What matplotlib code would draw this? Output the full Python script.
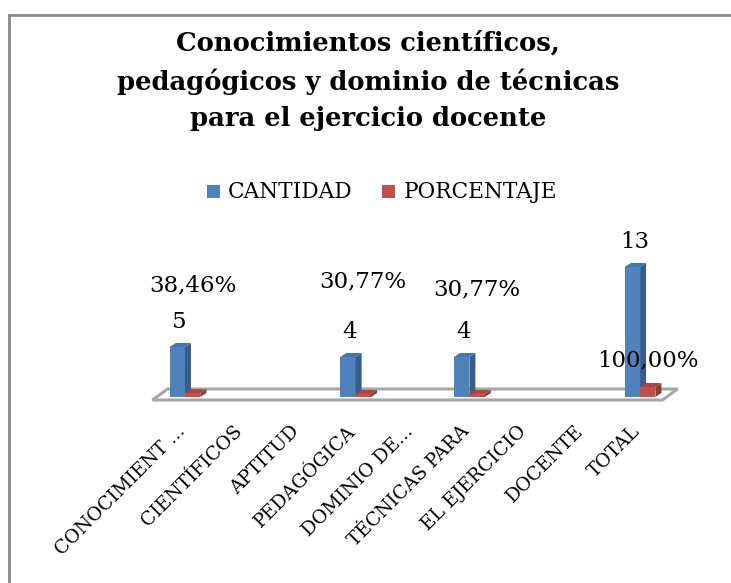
import numpy as np
import matplotlib
matplotlib.use('Agg')
import matplotlib.pyplot as plt
import matplotlib.transforms as mtrans
from matplotlib.patches import Polygon
from matplotlib.lines import Line2D

# data (blank categories come from wrapped label lines)
categories = ['CONOCIMIENT ...', 'CIENTÍFICOS', 'APTITUD', 'PEDAGÓGICA',
              'DOMINIO DE...', 'TÉCNICAS PARA', 'EL EJERCICIO', 'DOCENTE', 'TOTAL']
cantidad = [5, np.nan, np.nan, 4, np.nan, 4, np.nan, np.nan, 13]
porcentaje = [0.3846, np.nan, np.nan, 0.3077, np.nan, 0.3077, np.nan, np.nan, 1.0]
series_names = ['CANTIDAD', 'PORCENTAJE']

# label offsets (px above the bar top) for the percentage labels, as Excel placed them
pct_offsets = [108, 0, 0, 112, 0, 104, 0, 0, 27]

FONT = 'DejaVu Serif'
BLUE, BLUE_SIDE, BLUE_TOP = '#4f81bd', '#385d8a', '#4674ad'
RED, RED_SIDE, RED_TOP = '#c0504d', '#8c3836', '#a94543'

fig = plt.figure(figsize=(7.31, 5.83), dpi=100)
W, H = 731, 583

# chart border (cropped at right/bottom)
fig.add_artist(Line2D([9 / W, 9 / W], [0, 1 - 15 / H], color='#8a8a8a', lw=2))
fig.add_artist(Line2D([9 / W, 1], [1 - 15 / H, 1 - 15 / H], color='#8a8a8a', lw=2))

fig.text(368 / W, 1 - 81 / H, 'Conocimientos científicos,\npedagógicos y dominio de técnicas\npara el ejercicio docente',
         ha='center', va='center', family=FONT, fontweight='bold', fontsize=18.6, linespacing=1.58)

ax = fig.add_axes([156.5 / W, 1 - 397 / H, 512 / W, 140 / H])
ax.set_xlim(-0.5, len(categories) - 0.5)
ax.set_ylim(0, 14)
for s in ax.spines.values():
    s.set_visible(False)
ax.set_yticks([])
ax.set_xticks(range(len(categories)))
ax.set_xticklabels(categories, rotation=45, ha='right', family=FONT, fontsize=13.5)
ax.tick_params(axis='x', length=0, pad=18)
shift = mtrans.ScaledTranslation(4 / 100, 0, fig.dpi_scale_trans)
for lbl in ax.get_xticklabels():
    lbl.set_transform(lbl.get_transform() + shift)

# pixel -> data scale
px_x = (len(categories)) / 512.0
px_y = 14 / 140.0

# floor
fx0, fx1 = -0.5 - 4 * px_x, len(categories) - 0.5 - 6 * px_x
fy = -3 * px_y
floor = Polygon([(fx0, fy), (fx1, fy), (fx1 + 15 * px_x, fy + 11 * px_y), (fx0 + 15 * px_x, fy + 11 * px_y)],
                closed=True, facecolor='white', edgecolor='#a6a6a6', lw=2.2, clip_on=False, zorder=1)
ax.add_patch(floor)

bw = 0.27
dx, dy = 6 * px_x, 4 * px_y


def bar3d(x0, h, front, side, top):
    ax.add_patch(Polygon([(x0, 0), (x0 + bw, 0), (x0 + bw, h), (x0, h)], closed=True,
                         facecolor=front, edgecolor='none', clip_on=False, zorder=3))
    ax.add_patch(Polygon([(x0 + bw, 0), (x0 + bw + dx, dy), (x0 + bw + dx, h + dy), (x0 + bw, h)], closed=True,
                         facecolor=side, edgecolor='none', clip_on=False, zorder=3))
    ax.add_patch(Polygon([(x0, h), (x0 + bw, h), (x0 + bw + dx, h + dy), (x0 + dx, h + dy)], closed=True,
                         facecolor=top, edgecolor='none', clip_on=False, zorder=3))


for i in range(len(categories)):
    if not np.isnan(cantidad[i]):
        bar3d(i - bw, cantidad[i], BLUE, BLUE_SIDE, BLUE_TOP)
        ax.annotate('{:d}'.format(int(cantidad[i])), (i - bw / 2, cantidad[i]), xytext=(2, 25),
                    textcoords='offset pixels', ha='center', va='center', family=FONT, fontsize=16.5)
    if not np.isnan(porcentaje[i]):
        bar3d(i, porcentaje[i], RED, RED_SIDE, RED_TOP)
        ax.annotate('{:.2f}%'.format(porcentaje[i] * 100).replace('.', ','), (i + bw / 2, porcentaje[i]),
                    xytext=(0, pct_offsets[i]), textcoords='offset pixels', ha='center', va='center',
                    family=FONT, fontsize=16.5)

# legend
fig.patches.append(plt.Rectangle((207 / W, 1 - 198 / H), 13 / W, 13 / H, transform=fig.transFigure,
                                 facecolor=BLUE, edgecolor='none'))
fig.text(228 / W, 1 - 192 / H, series_names[0], ha='left', va='center', family=FONT, fontsize=15.6)
fig.patches.append(plt.Rectangle((382 / W, 1 - 198 / H), 13 / W, 13 / H, transform=fig.transFigure,
                                 facecolor=RED, edgecolor='none'))
fig.text(404 / W, 1 - 192 / H, series_names[1], ha='left', va='center', family=FONT, fontsize=15.6)

fig.savefig('out.png', dpi=100)
